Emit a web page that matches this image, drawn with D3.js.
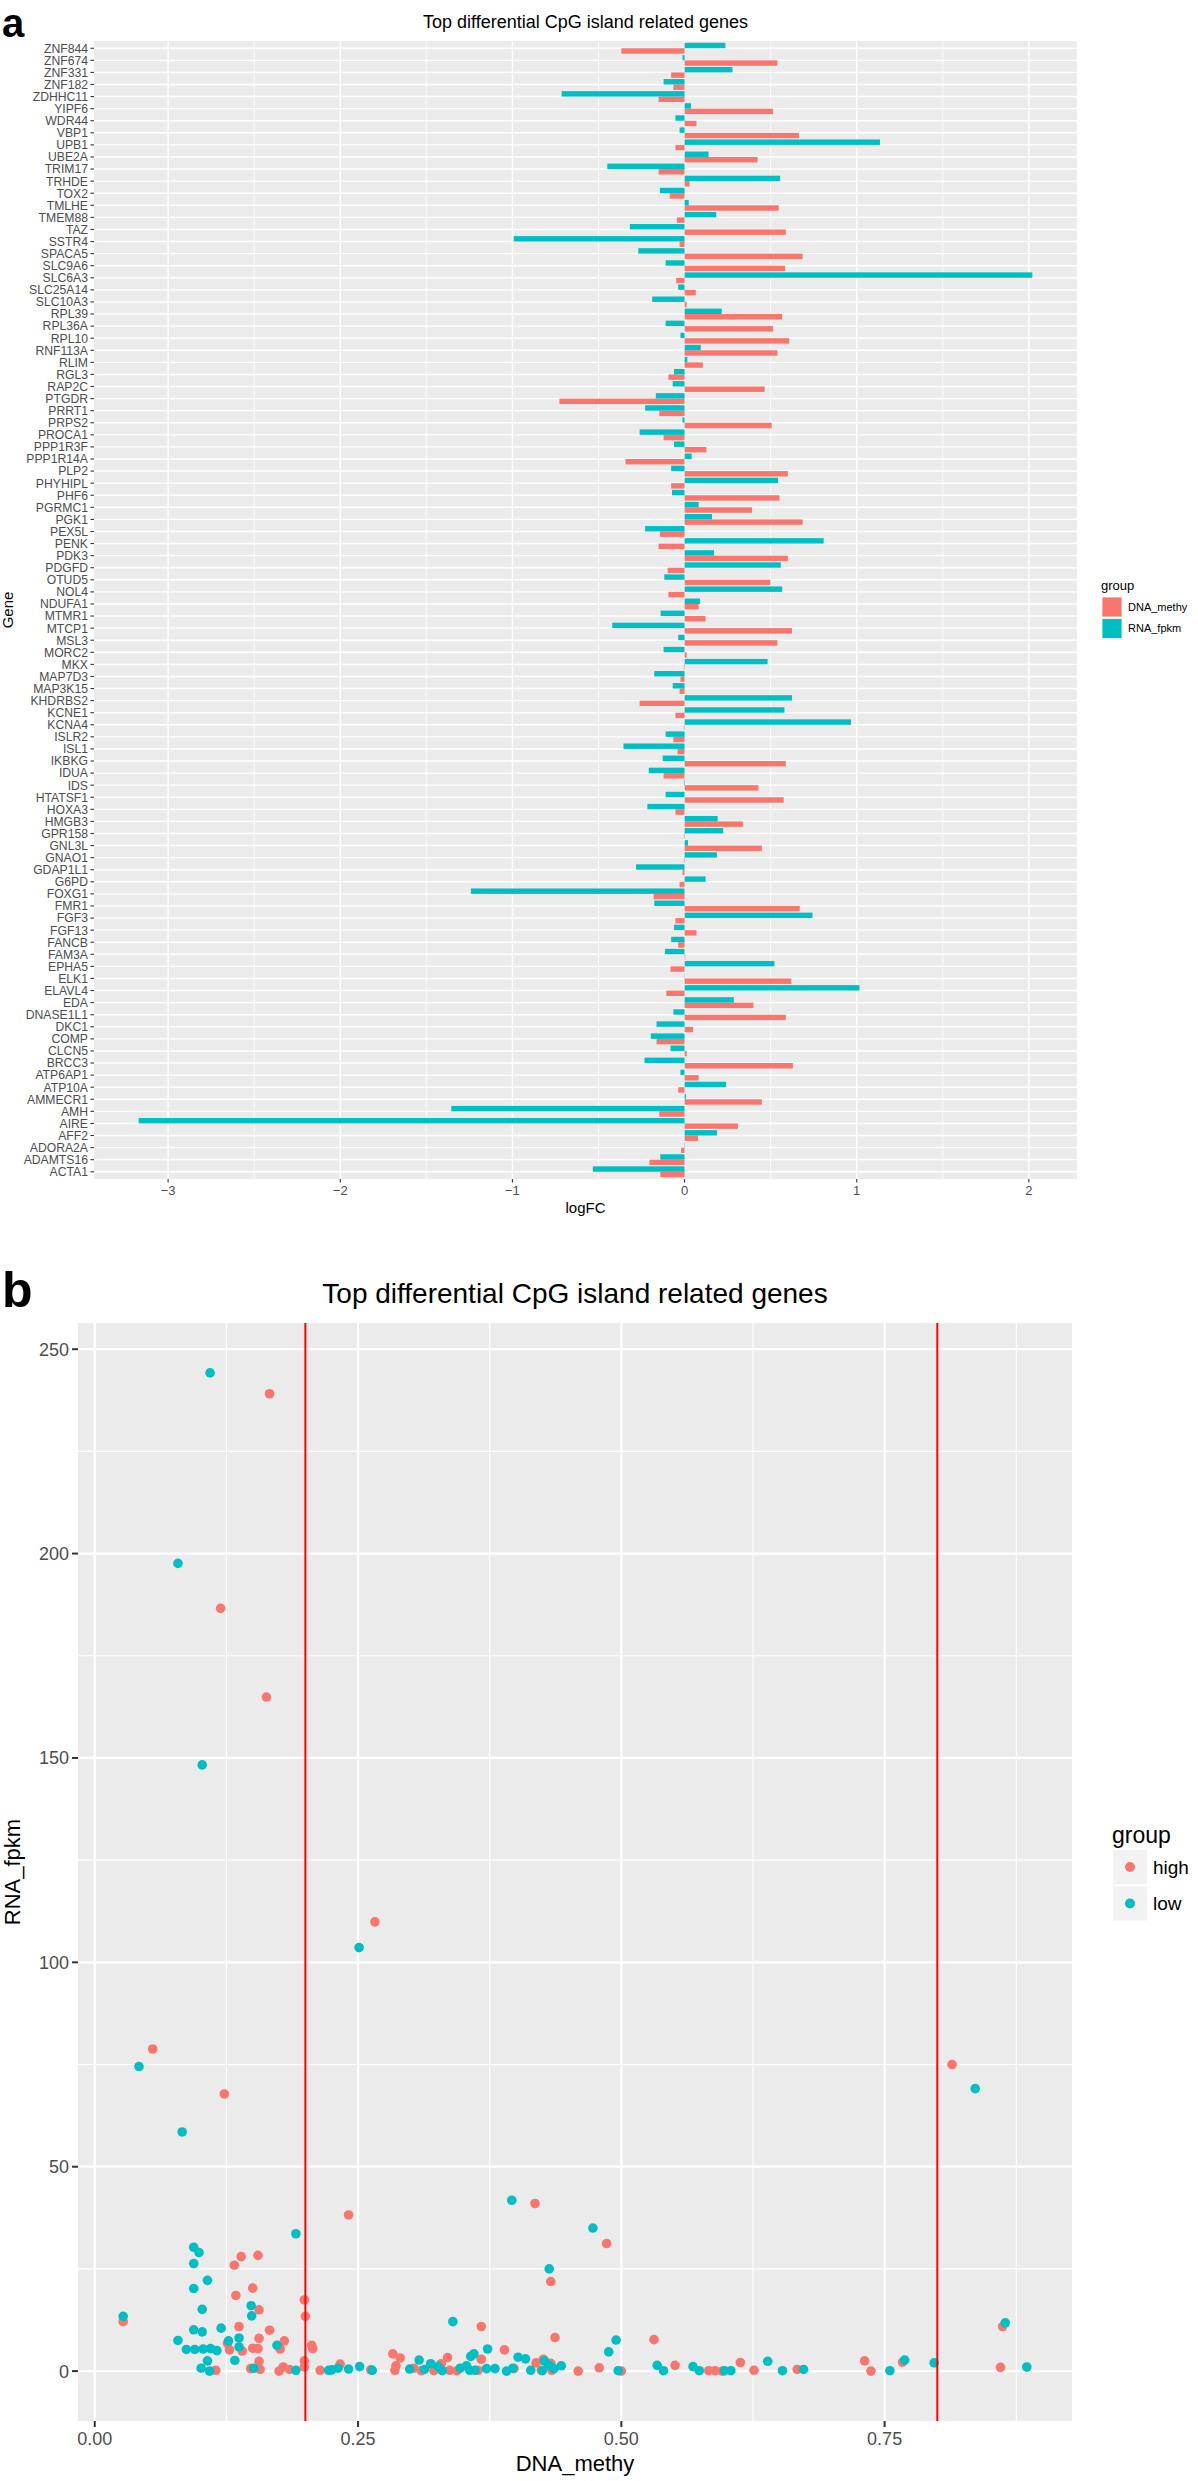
<!DOCTYPE html>
<html><head><meta charset="utf-8">
<script src="https://cdn.jsdelivr.net/npm/d3@7"></script>
<style>body{margin:0;background:#fff}svg{display:block}text{font-family:"Liberation Sans",Arial,Helvetica,sans-serif}</style>
</head><body><svg id="c" width="1198" height="2481"></svg>
<script>
// ---------- Panel a data ----------
const genes = ["ZNF844","ZNF674","ZNF331","ZNF182","ZDHHC11","YIPF6","WDR44","VBP1","UPB1","UBE2A","TRIM17","TRHDE","TOX2","TMLHE","TMEM88","TAZ","SSTR4","SPACA5","SLC9A6","SLC6A3","SLC25A14","SLC10A3","RPL39","RPL36A","RPL10","RNF113A","RLIM","RGL3","RAP2C","PTGDR","PRRT1","PRPS2","PROCA1","PPP1R3F","PPP1R14A","PLP2","PHYHIPL","PHF6","PGRMC1","PGK1","PEX5L","PENK","PDK3","PDGFD","OTUD5","NOL4","NDUFA1","MTMR1","MTCP1","MSL3","MORC2","MKX","MAP7D3","MAP3K15","KHDRBS2","KCNE1","KCNA4","ISLR2","ISL1","IKBKG","IDUA","IDS","HTATSF1","HOXA3","HMGB3","GPR158","GNL3L","GNAO1","GDAP1L1","G6PD","FOXG1","FMR1","FGF3","FGF13","FANCB","FAM3A","EPHA5","ELK1","ELAVL4","EDA","DNASE1L1","DKC1","COMP","CLCN5","BRCC3","ATP6AP1","ATP10A","AMMECR1","AMH","AIRE","AFF2","ADORA2A","ADAMTS16","ACTA1"];
const methyFC = [-0.367,0.539,-0.078,-0.065,-0.151,0.514,0.069,0.665,-0.053,0.424,-0.151,0.029,-0.086,0.547,-0.045,0.588,-0.029,0.686,0.584,-0.049,0.065,0.012,0.567,0.514,0.608,0.539,0.106,-0.094,0.465,-0.727,-0.147,0.506,-0.122,0.127,-0.343,0.600,-0.078,0.551,0.392,0.686,-0.143,-0.151,0.600,-0.098,0.498,-0.094,0.082,0.122,0.624,0.539,0.012,-0.004,-0.024,-0.029,-0.261,-0.053,-0.004,-0.065,-0.041,0.588,-0.122,0.429,0.576,-0.053,0.339,-0.004,0.449,-0.004,-0.012,-0.029,-0.180,0.669,-0.053,0.069,-0.037,0.004,-0.082,0.620,-0.106,0.400,0.588,0.049,-0.163,0.012,0.629,0.082,-0.037,0.449,-0.147,0.310,0.078,-0.020,-0.204,-0.141];
const fpkmFC = [0.237,-0.012,0.278,-0.122,-0.714,0.037,-0.053,-0.029,1.135,0.139,-0.449,0.555,-0.143,0.024,0.184,-0.318,-0.992,-0.269,-0.110,2.020,-0.037,-0.188,0.216,-0.110,-0.024,0.094,0.016,-0.061,-0.069,-0.167,-0.229,-0.012,-0.261,-0.061,0.041,-0.078,0.543,-0.073,0.082,0.159,-0.229,0.808,0.171,0.559,-0.118,0.567,0.090,-0.139,-0.420,-0.037,-0.122,0.482,-0.176,-0.069,0.624,0.580,0.967,-0.110,-0.355,-0.127,-0.208,-0.004,-0.110,-0.216,0.192,0.224,0.020,0.188,-0.282,0.122,-1.241,-0.176,0.743,-0.061,-0.078,-0.114,0.522,0.002,1.016,0.286,-0.065,-0.163,-0.196,-0.082,-0.233,-0.024,0.241,0.008,-1.355,-3.171,0.188,0.003,-0.141,-0.533];
const groupsA = ["DNA_methy","RNA_fpkm"];
const xTicksA = [-3,-2,-1,0,1,2];

// ---------- Panel b data ----------
const highDNA = [0.166,0.1195,0.163,0.266,0.055,0.123,0.814,0.027,0.126,0.128,0.1325,0.139,0.134,0.137,0.140,0.150,0.155,0.156,0.156,0.150,0.155,0.156,0.148,0.157,0.115,0.166,0.180,0.176,0.179,0.175,0.185,0.199,0.200,0.206,0.207,0.199,0.199,0.241,0.214,0.233,0.262,0.283,0.290,0.286,0.285,0.303,0.310,0.322,0.329,0.335,0.337,0.344,0.364,0.367,0.367,0.389,0.398,0.418,0.419,0.424,0.426,0.433,0.434,0.433,0.437,0.459,0.479,0.486,0.500,0.531,0.551,0.583,0.589,0.596,0.613,0.626,0.667,0.731,0.737,0.767,0.862,0.860];
const highRNA = [239.1,186.6,164.9,109.9,78.8,67.8,75.0,12.1,6.8,5.2,25.9,28.0,18.5,10.9,4.9,20.3,28.3,15.0,8.0,5.6,5.5,2.4,0.6,0.4,0.2,10.0,7.4,5.4,1.0,0.0,0.4,17.4,13.4,6.3,5.5,2.5,1.0,38.2,0.2,1.7,0.3,4.2,3.2,1.3,0.2,0.7,0.1,0.1,1.8,3.3,0.2,0.1,0.2,10.9,2.9,5.2,0.6,41.0,2.0,0.2,2.9,1.9,0.2,21.9,8.2,0.0,0.8,31.2,0.0,7.7,1.4,0.1,0.1,0.0,2.1,0.2,0.4,2.5,0.0,2.2,10.9,0.9];
const lowDNA = [0.1095,0.079,0.102,0.251,0.042,0.083,0.836,0.027,0.079,0.087,0.095,0.103,0.110,0.116,0.094,0.099,0.094,0.094,0.107,0.102,0.094,0.102,0.107,0.101,0.109,0.120,0.127,0.137,0.137,0.133,0.1485,0.149,0.151,0.173,0.191,0.191,0.222,0.225,0.231,0.241,0.2515,0.2635,0.299,0.308,0.313,0.319,0.326,0.330,0.340,0.347,0.353,0.357,0.360,0.356,0.361,0.373,0.372,0.380,0.391,0.397,0.396,0.402,0.409,0.414,0.425,0.427,0.431,0.436,0.443,0.4315,0.473,0.488,0.495,0.497,0.534,0.540,0.568,0.574,0.598,0.604,0.639,0.653,0.673,0.755,0.769,0.797,0.8645,0.885];
const lowRNA = [244.2,197.6,148.3,103.6,74.5,58.5,69.1,13.4,7.5,5.3,5.3,5.4,5.5,5.0,30.3,29.0,26.3,20.2,22.2,15.1,10.1,9.6,2.5,0.7,0.0,10.5,7.4,8.1,5.9,2.6,16.0,13.5,0.7,6.3,33.6,0.2,0.2,0.3,0.7,0.5,1.1,0.2,0.5,2.7,0.4,1.8,1.1,0.1,12.1,0.7,1.3,3.6,4.2,0.2,0.2,5.4,0.6,0.6,0.0,0.7,41.8,3.4,3.0,0.2,0.1,2.5,1.5,0.6,1.3,25.0,35.0,4.7,7.6,0.1,1.4,0.1,1.1,0.1,0.1,0.1,2.4,0.1,0.4,0.1,2.7,2.0,11.8,1.0];
const groupsB = ["high","low"];
const cutoffs = [0.2, 0.8];
const xTicksB = [0,0.25,0.5,0.75];
const yTicksB = [0,50,100,150,200,250];

const colors = ["#F8766D","#00BFC4"];
const svg = d3.select("#c");
const BG = "#EBEBEB", TXT = "#4D4D4D", TICK = "#333333";

function expand(lo, hi){ const w = hi - lo; return [lo - 0.05*w, hi + 0.05*w]; }

// ================= PANEL A =================
(function(){
  const L = 94, R = 1077, T = 41, B = 1179;
  const all = methyFC.concat(fpkmFC, [0]);
  const x = d3.scaleLinear().domain(expand(d3.min(all), d3.max(all))).range([L, R]);
  const y = d3.scalePoint().domain(genes).range([T, B]).padding(0.6);
  const step = y.step();
  const sub = d3.scaleBand().domain(["RNA_fpkm","DNA_methy"]).range([-0.45*step, 0.45*step]);
  const g = svg.append("g");
  g.append("rect").attr("x", L).attr("y", T).attr("width", R-L).attr("height", B-T).attr("fill", BG);
  const minor = d3.range(-3.5, 2.6, 1);
  g.selectAll(".mnx").data(minor.filter(v => x(v) > L && x(v) < R)).join("line")
    .attr("x1", d => x(d)).attr("x2", d => x(d)).attr("y1", T).attr("y2", B)
    .attr("stroke", "#fff").attr("stroke-width", 0.7);
  g.selectAll(".mjx").data(xTicksA).join("line")
    .attr("x1", d => x(d)).attr("x2", d => x(d)).attr("y1", T).attr("y2", B)
    .attr("stroke", "#fff").attr("stroke-width", 1.4);
  g.selectAll(".mjy").data(genes).join("line")
    .attr("x1", L).attr("x2", R).attr("y1", d => y(d)).attr("y2", d => y(d))
    .attr("stroke", "#fff").attr("stroke-width", 1.4);
  const rows = [];
  genes.forEach((gn, i) => {
    rows.push({gene: gn, grp: "DNA_methy", v: methyFC[i]});
    rows.push({gene: gn, grp: "RNA_fpkm", v: fpkmFC[i]});
  });
  g.selectAll(".bar").data(rows).join("rect")
    .attr("x", d => Math.min(x(0), x(d.v)))
    .attr("width", d => Math.abs(x(d.v) - x(0)))
    .attr("y", d => y(d.gene) + sub(d.grp))
    .attr("height", sub.bandwidth())
    .attr("fill", d => colors[groupsA.indexOf(d.grp)]);
  g.selectAll(".yt").data(genes).join("line")
    .attr("x1", L-3.5).attr("x2", L).attr("y1", d => y(d)).attr("y2", d => y(d))
    .attr("stroke", TICK).attr("stroke-width", 1.1);
  g.selectAll(".yl").data(genes).join("text")
    .attr("x", L-6).attr("y", d => y(d)).attr("dy", "0.36em")
    .attr("text-anchor", "end").attr("font-size", 12.2).attr("fill", TXT).text(d => d);
  g.selectAll(".xt").data(xTicksA).join("line")
    .attr("x1", d => x(d)).attr("x2", d => x(d)).attr("y1", B).attr("y2", B+3.5)
    .attr("stroke", TICK).attr("stroke-width", 1.1);
  g.selectAll(".xl").data(xTicksA).join("text")
    .attr("x", d => x(d)).attr("y", B+16).attr("text-anchor", "middle")
    .attr("font-size", 13).attr("fill", TXT).text(d => d < 0 ? "\u2212" + Math.abs(d) : d);
  g.append("text").attr("x", (L+R)/2).attr("y", 1213).attr("text-anchor", "middle")
    .attr("font-size", 15).attr("fill", "#000").text("logFC");
  g.append("text").attr("transform", `translate(13,${(T+B)/2}) rotate(-90)`)
    .attr("text-anchor", "middle").attr("font-size", 15).attr("fill", "#000").text("Gene");
  g.append("text").attr("x", (L+R)/2).attr("y", 28).attr("text-anchor", "middle")
    .attr("font-size", 18).attr("fill", "#000").text("Top differential CpG island related genes");
  g.append("text").attr("x", 2).attr("y", 37).attr("font-size", 40).attr("font-weight", "bold").text("a");
  const lg = g.append("g");
  lg.append("text").attr("x", 1101).attr("y", 590).attr("font-size", 13).text("group");
  groupsA.forEach((gr, i) => {
    lg.append("rect").attr("x", 1102).attr("y", 597 + i*21.5).attr("width", 20).attr("height", 20)
      .attr("fill", colors[i]).attr("stroke", "#fff").attr("stroke-width", 0.8);
    lg.append("text").attr("x", 1128).attr("y", 607 + i*21.5).attr("dy", "0.35em")
      .attr("font-size", 11).text(gr);
  });
})();

// ================= PANEL B =================
(function(){
  const L = 78, R = 1072, T = 1323, B = 2421;
  const allX = highDNA.concat(lowDNA), allY = highRNA.concat(lowRNA);
  const x = d3.scaleLinear().domain(expand(d3.min(allX), d3.max(allX))).range([L, R]);
  const y = d3.scaleLinear().domain(expand(d3.min(allY), d3.max(allY))).range([B, T]);
  const g = svg.append("g");
  g.append("rect").attr("x", L).attr("y", T).attr("width", R-L).attr("height", B-T).attr("fill", BG);
  const minX = [0.125,0.375,0.625,0.875], minY = [25,75,125,175,225];
  g.selectAll(".mnx").data(minX).join("line").attr("x1", d => x(d)).attr("x2", d => x(d))
    .attr("y1", T).attr("y2", B).attr("stroke", "#fff").attr("stroke-width", 1.1);
  g.selectAll(".mny").data(minY).join("line").attr("y1", d => y(d)).attr("y2", d => y(d))
    .attr("x1", L).attr("x2", R).attr("stroke", "#fff").attr("stroke-width", 1.1);
  g.selectAll(".mjx").data(xTicksB).join("line").attr("x1", d => x(d)).attr("x2", d => x(d))
    .attr("y1", T).attr("y2", B).attr("stroke", "#fff").attr("stroke-width", 2.2);
  g.selectAll(".mjy").data(yTicksB).join("line").attr("y1", d => y(d)).attr("y2", d => y(d))
    .attr("x1", L).attr("x2", R).attr("stroke", "#fff").attr("stroke-width", 2.2);
  const pts = [];
  highDNA.forEach((v, i) => pts.push({x: v, y: highRNA[i], g: 0}));
  lowDNA.forEach((v, i) => pts.push({x: v, y: lowRNA[i], g: 1}));
  g.selectAll(".pt").data(pts).join("circle")
    .attr("cx", d => x(d.x)).attr("cy", d => y(d.y)).attr("r", 4.8)
    .attr("fill", d => colors[d.g]);
  g.selectAll(".vl").data(cutoffs).join("line").attr("x1", d => x(d)).attr("x2", d => x(d))
    .attr("y1", T).attr("y2", B).attr("stroke", "#FF0000").attr("stroke-width", 2);
  g.selectAll(".xt").data(xTicksB).join("line").attr("x1", d => x(d)).attr("x2", d => x(d))
    .attr("y1", B).attr("y2", B+6).attr("stroke", TICK).attr("stroke-width", 2);
  g.selectAll(".xl").data(xTicksB).join("text").attr("x", d => x(d)).attr("y", 2445)
    .attr("text-anchor", "middle").attr("font-size", 18).attr("fill", TXT).text(d => d3.format(".2f")(d));
  g.selectAll(".yt").data(yTicksB).join("line").attr("y1", d => y(d)).attr("y2", d => y(d))
    .attr("x1", L-6).attr("x2", L).attr("stroke", TICK).attr("stroke-width", 2);
  g.selectAll(".yl").data(yTicksB).join("text").attr("x", L-9).attr("y", d => y(d)).attr("dy", "0.36em")
    .attr("text-anchor", "end").attr("font-size", 18).attr("fill", TXT).text(d => d);
  g.append("text").attr("x", (L+R)/2).attr("y", 2471).attr("text-anchor", "middle")
    .attr("font-size", 22).text("DNA_methy");
  g.append("text").attr("transform", `translate(20,${(T+B)/2}) rotate(-90)`)
    .attr("text-anchor", "middle").attr("font-size", 22).text("RNA_fpkm");
  g.append("text").attr("x", (L+R)/2).attr("y", 1303).attr("text-anchor", "middle")
    .attr("font-size", 28).text("Top differential CpG island related genes");
  g.append("text").attr("x", 2).attr("y", 1307).attr("font-size", 50).attr("font-weight", "bold").text("b");
  const lg = g.append("g");
  lg.append("text").attr("x", 1112).attr("y", 1843).attr("font-size", 23).text("group");
  groupsB.forEach((gr, i) => {
    const ky = 1850 + i*36.5;
    lg.append("rect").attr("x", 1113).attr("y", ky).attr("width", 34).attr("height", 34).attr("fill", "#F2F2F2");
    lg.append("circle").attr("cx", 1130).attr("cy", ky+17).attr("r", 5).attr("fill", colors[i]);
    lg.append("text").attr("x", 1153).attr("y", ky+17).attr("dy", "0.35em").attr("font-size", 19).text(gr);
  });
})();
</script></body></html>
